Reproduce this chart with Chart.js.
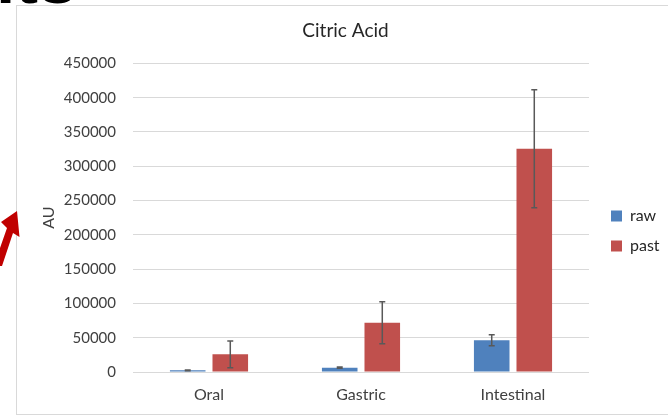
<!DOCTYPE html>
<html>
<head>
<meta charset="utf-8">
<script src="https://cdn.jsdelivr.net/npm/chart.js@4"></script>
<style>
  html, body { margin: 0; padding: 0; width: 668px; height: 415px; overflow: hidden; background: #fff; }
  #frame { position: absolute; left: 16px; top: 5px; width: 660px; height: 408px; border: 1px solid #d9d9d9; box-sizing: content-box; }
  #wrap { position: absolute; left: 0; top: 0; width: 658px; height: 408px; }
  #deco { position: absolute; left: -28px; top: -56px; font: bold 70px "Liberation Sans", sans-serif; color: #000; line-height: 70px; letter-spacing: 0px; white-space: nowrap; }
  svg { position: absolute; left: 0; top: 0; }
</style>
</head>
<body>
<div id="deco">nts</div>
<div id="frame"><div id="wrap"><canvas id="c"></canvas></div></div>
<svg width="30" height="300"><polygon points="17,211 19.5,237 13,233 2,266 0,266 0,248 7,228 1,222" fill="#c00000"/></svg>
<script>
const categories = ["Oral", "Gastric", "Intestinal"];
const rawValues = [2500, 6300, 46200];
const rawErrors = [500, 1000, 8000];
const pastValues = [25800, 71900, 325500];
const pastErrors = [19500, 30600, 86000];
const yTicks = [0, 50000, 100000, 150000, 200000, 250000, 300000, 350000, 400000, 450000];

const errorBarPlugin = {
  id: 'errorBars',
  afterDatasetsDraw(chart) {
    const ctx = chart.ctx;
    const y = chart.scales.y;
    const errs = [rawErrors, pastErrors];
    ctx.save();
    ctx.strokeStyle = '#595959';
    ctx.lineWidth = 1.5;
    chart.data.datasets.forEach((ds, di) => {
      const meta = chart.getDatasetMeta(di);
      meta.data.forEach((bar, i) => {
        const v = ds.data[i], e = errs[di][i];
        const top = y.getPixelForValue(v + e);
        const bot = y.getPixelForValue(Math.max(0, v - e));
        const x = bar.x;
        ctx.beginPath();
        ctx.moveTo(x, top); ctx.lineTo(x, bot);
        ctx.moveTo(x - 3, top); ctx.lineTo(x + 3, top);
        ctx.moveTo(x - 3, bot); ctx.lineTo(x + 3, bot);
        ctx.stroke();
      });
    });
    ctx.restore();
  }
};

const legendPlacer = {
  id: 'legendPlacer',
  afterLayout(chart) {
    const lg = chart.legend;
    const dx = (chart.chartArea.right + 8) - lg.left;
    lg.left += dx; lg.right += dx;
    const dy = 21;
    lg.top += dy; lg.bottom += dy;
  }
};

const font = "Lato, 'Open Sans', sans-serif";
new Chart(document.getElementById('c'), {
  type: 'bar',
  data: {
    labels: categories,
    datasets: [
      { label: 'raw', data: rawValues, backgroundColor: '#4f81bd', categoryPercentage: 0.56, barPercentage: 0.836 },
      { label: 'past', data: pastValues, backgroundColor: '#c0504d', categoryPercentage: 0.56, barPercentage: 0.836 }
    ]
  },
  options: {
    responsive: true,
    maintainAspectRatio: false,
    animation: false,
    devicePixelRatio: 1,
    layout: { padding: { left: 22, right: 23, top: 0, bottom: 0 } },
    plugins: {
      title: { display: true, text: 'Citric Acid', color: '#262626', font: { family: font, size: 19, weight: 'normal' }, padding: { top: 13.6, bottom: 21 } },
      legend: {
        position: 'right',
        maxWidth: 63,
        labels: { boxWidth: 11, boxHeight: 11, color: '#262626', font: { family: font, size: 16 }, padding: 14 }
      },
      tooltip: { enabled: false }
    },
    scales: {
      x: {
        afterFit(scale) { scale.height = 42; },
        grid: { display: false, drawTicks: false },
        border: { display: false },
        ticks: { color: '#404040', font: { family: font, size: 16 }, padding: 13 }
      },
      y: {
        min: 0, max: 450000,
        afterBuildTicks(scale) { scale.ticks = yTicks.map(v => ({ value: v })); },
        afterFit(scale) { scale.width = 94; },
        grid: { color: '#d9d9d9', lineWidth: 1, drawTicks: false },
        border: { display: false },
        title: { display: true, text: 'AU', color: '#404040', font: { family: font, size: 16 }, padding: 0 },
        ticks: { color: '#404040', font: { family: font, size: 15 }, padding: 17, callback: v => String(v) }
      }
    }
  },
  plugins: [errorBarPlugin, legendPlacer]
});
</script>
</body>
</html>
